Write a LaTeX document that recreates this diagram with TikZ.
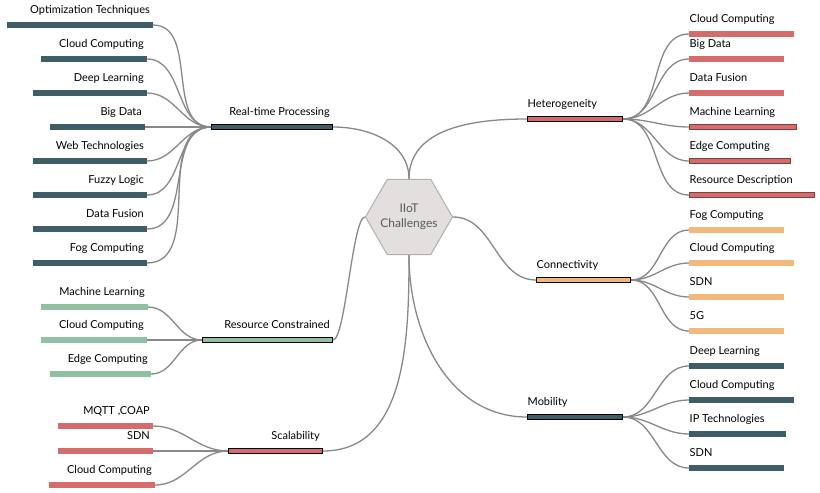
\documentclass[tikz,border=0pt]{standalone}
\usepackage{fontspec}
\setmainfont{Lato}
\usetikzlibrary{shapes.geometric}

\definecolor{slate}{HTML}{3F5D66}
\definecolor{rose}{HTML}{D66B6B}
\definecolor{peach}{HTML}{F3B87C}
\definecolor{sage}{HTML}{90C0A0}
\definecolor{wire}{HTML}{888888}
\definecolor{hexfill}{HTML}{E3DFDF}
\definecolor{hexline}{HTML}{B3AEAE}
\definecolor{hexink}{HTML}{5A5A5A}

\tikzset{
  bar/.style={rectangle,inner sep=0pt,minimum height=5.5pt},
  topic/.style={bar,draw=black,line width=1pt,minimum height=4.5pt},
  rimmed/.style={draw=rose!60!black,line width=0.5pt,minimum height=5pt},
  lefttag/.style={label={[anchor=base east,inner sep=0pt,xshift=-3pt,yshift=9pt]north east:#1}},
  righttag/.style={label={[anchor=base west,inner sep=0pt,xshift=0.5pt,yshift=9pt]north west:#1}},
}

\begin{document}
\begin{tikzpicture}[x=1pt,y=-1pt,font=\fontsize{11}{13}\selectfont]
		\useasboundingbox (0,0) rectangle (820,493);

		\node[regular polygon,regular polygon sides=6,minimum size=87pt,inner sep=-10pt,
		      fill=hexfill,draw=hexline,line width=1pt,text=hexink,align=center,
		      font=\fontsize{12}{15}\selectfont] (hub) at (409,217) {IIoT\\Challenges};

		% left side
		\begin{scope}[every node/.style={bar,anchor=east}]
			\node[topic,fill=slate,minimum width=121pt,lefttag=Real-time Processing] (rt) at (333,127) {};
			\node[fill=slate,minimum width=146pt,lefttag=Optimization Techniques] (rt1) at (153,25) {};
			\node[fill=slate,minimum width=106pt,lefttag=Cloud Computing] (rt2) at (147,59) {};
			\node[fill=slate,minimum width=114pt,lefttag=Deep Learning] (rt3) at (147,93) {};
			\node[fill=slate,minimum width=95pt,lefttag=Big Data] (rt4) at (145,127) {};
			\node[fill=slate,minimum width=114pt,lefttag=Web Technologies] (rt5) at (147,161) {};
			\node[fill=slate,minimum width=114pt,lefttag=Fuzzy Logic] (rt6) at (147,195) {};
			\node[fill=slate,minimum width=114pt,lefttag=Data Fusion] (rt7) at (147,229) {};
			\node[fill=slate,minimum width=114pt,lefttag=Fog Computing] (rt8) at (147,263) {};

			\node[topic,fill=sage,minimum width=130pt,lefttag=Resource Constrained] (rc) at (333,340) {};
			\node[fill=sage,minimum width=107pt,lefttag=Machine Learning] (rc1) at (148,307) {};
			\node[fill=sage,minimum width=106pt,lefttag=Cloud Computing] (rc2) at (147,340) {};
			\node[fill=sage,minimum width=101pt,lefttag=Edge Computing] (rc3) at (151,374) {};

			\node[topic,fill=rose,minimum width=94pt,lefttag=Scalability] (sc) at (323,451) {};
			\node[fill=rose,minimum width=95pt,lefttag={MQTT ,COAP}] (sc1) at (153,426) {};
			\node[fill=rose,minimum width=95pt,lefttag=SDN] (sc2) at (153,451) {};
			\node[fill=rose,minimum width=106pt,lefttag=Cloud Computing] (sc3) at (155,485) {};
		\end{scope}

		% right side
		\begin{scope}[every node/.style={bar,anchor=west}]
			\node[topic,fill=rose,minimum width=95pt,righttag=Heterogeneity] (he) at (527,119) {};
			\node[fill=rose,minimum width=105pt,righttag=Cloud Computing] (he1) at (689,34) {};
			\node[fill=rose,minimum width=95pt,righttag=Big Data] (he2) at (689,59) {};
			\node[fill=rose,minimum width=95pt,righttag=Data Fusion] (he3) at (689,93) {};
			\node[fill=rose,rimmed,minimum width=107pt,righttag=Machine Learning] (he4) at (689,127) {};
			\node[fill=rose,rimmed,minimum width=101pt,righttag=Edge Computing] (he5) at (689,161) {};
			\node[fill=rose,rimmed,minimum width=125pt,righttag=Resource Description] (he6) at (689,195) {};

			\node[topic,fill=peach,minimum width=94pt,righttag=Connectivity] (co) at (536,280) {};
			\node[fill=peach,minimum width=95pt,righttag=Fog Computing] (co1) at (689,230) {};
			\node[fill=peach,minimum width=105pt,righttag=Cloud Computing] (co2) at (689,263) {};
			\node[fill=peach,minimum width=95pt,righttag=SDN] (co3) at (689,297) {};
			\node[fill=peach,minimum width=95pt,righttag=5G] (co4) at (689,331) {};

			\node[topic,fill=slate,minimum width=95pt,righttag=Mobility] (mo) at (527,417) {};
			\node[fill=slate,minimum width=95pt,righttag=Deep Learning] (mo1) at (689,366) {};
			\node[fill=slate,minimum width=105pt,righttag=Cloud Computing] (mo2) at (689,400) {};
			\node[fill=slate,minimum width=97pt,righttag=IP Technologies] (mo3) at (689,434) {};
			\node[fill=slate,minimum width=95pt,righttag=SDN] (mo4) at (689,468) {};
		\end{scope}

		\begin{scope}[every edge/.style={draw=wire,line width=1.3pt}]
			% from the hub
			\path (hub.north) edge[out=90,in=0] (rt.east);
			\path (hub.north) edge[out=90,in=180] (he.west);
			\path (hub.east) edge[out=0,in=180] (co.west);
			\path (hub.south) edge[out=-90,in=180] (mo.west);
			\path (hub.south) edge[out=-90,in=0] (sc.east);
			\path (hub.west) edge[out=180,in=0,looseness=0.25] (rc.east);
			% left leaves
			\path (rt1.east) edge[out=0,in=180] (rt.west);
			\path (rt2.east) edge[out=0,in=180] (rt.west);
			\path (rt3.east) edge[out=0,in=180] (rt.west);
			\path (rt4.east) edge[out=0,in=180] (rt.west);
			\path (rt5.east) edge[out=0,in=180] (rt.west);
			\path (rt6.east) edge[out=0,in=180] (rt.west);
			\path (rt7.east) edge[out=0,in=180] (rt.west);
			\path (rt8.east) edge[out=0,in=180] (rt.west);
			\path (rc1.east) edge[out=0,in=180] (rc.west);
			\path (rc2.east) edge[out=0,in=180] (rc.west);
			\path (rc3.east) edge[out=0,in=180] (rc.west);
			\path (sc1.east) edge[out=0,in=180] (sc.west);
			\path (sc2.east) edge[out=0,in=180] (sc.west);
			\path (sc3.east) edge[out=0,in=180] (sc.west);
			% right leaves
			\path (he.east) edge[out=0,in=180] (he1.west);
			\path (he.east) edge[out=0,in=180] (he2.west);
			\path (he.east) edge[out=0,in=180] (he3.west);
			\path (he.east) edge[out=0,in=180] (he4.west);
			\path (he.east) edge[out=0,in=180] (he5.west);
			\path (he.east) edge[out=0,in=180] (he6.west);
			\path (co.east) edge[out=0,in=180] (co1.west);
			\path (co.east) edge[out=0,in=180] (co2.west);
			\path (co.east) edge[out=0,in=180] (co3.west);
			\path (co.east) edge[out=0,in=180] (co4.west);
			\path (mo.east) edge[out=0,in=180] (mo1.west);
			\path (mo.east) edge[out=0,in=180] (mo2.west);
			\path (mo.east) edge[out=0,in=180] (mo3.west);
			\path (mo.east) edge[out=0,in=180] (mo4.west);
		\end{scope}
\end{tikzpicture}
\end{document}
